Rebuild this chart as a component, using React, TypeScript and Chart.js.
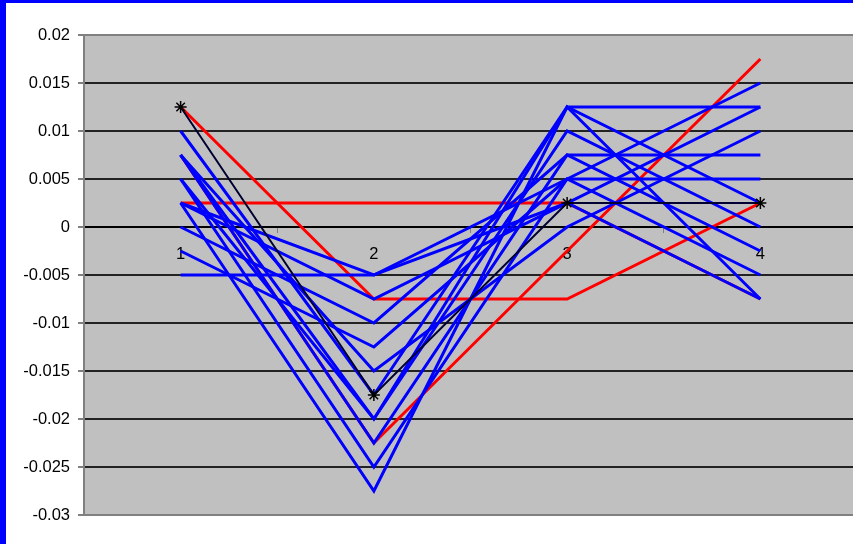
import React, { useEffect, useRef } from 'react';
import { Chart, registerables } from 'chart.js';

Chart.register(...registerables);

const categories = ['1', '2', '3', '4'];

const redA = [0.0125, -0.0075, -0.0075, 0.0025];
const redB = [0.0025, 0.0025, 0.0025, -0.0075];
const redC = [0.0075, -0.0225, -0.0025, 0.0175];
const navyStar = [0.0125, -0.0175, 0.0025, 0.0025];

const blueA = [-0.005, -0.005, 0.005, 0.015];
const blueB = [-0.0025, -0.0125, 0.005, 0.005];
const blueC = [0, -0.01, 0.0075, 0.0075];
const blueD = [0.0025, -0.005, 0.0025, 0.0125];
const blueE = [0.0025, -0.0075, 0.0025, -0.0075];
const blueF = [0.0075, -0.015, 0, 0.01];
const blueG = [0.01, -0.0175, 0.0125, 0.0125];
const blueH = [0.0075, -0.02, 0.01, 0];
const blueI = [0.005, -0.02, 0.0125, 0.0025];
const blueJ = [0.0075, -0.0225, 0.0075, -0.0025];
const blueK = [0.005, -0.025, 0.005, -0.005];
const blueL = [0.0025, -0.0275, 0.0125, -0.0075];

const blueSeries = [blueA, blueB, blueC, blueD, blueE, blueF, blueG, blueH, blueI, blueJ, blueK, blueL];
const redSeries = [redA, redB, redC];

const yMin = -0.03;
const yMax = 0.02;
const yStep = 0.005;

const FONT = "'Liberation Sans', Arial, sans-serif";

export default function App() {
  const ref = useRef<HTMLCanvasElement>(null);

  useEffect(() => {
    if (!ref.current) return;
    const bgPlugin = {
      id: 'bgPlugin',
      beforeDraw(chart: any) {
        const { ctx, chartArea: a, width, height } = chart;
        ctx.save();
        ctx.fillStyle = '#FFFFFF';
        ctx.fillRect(0, 0, width, height);
        ctx.fillStyle = '#0000FF';
        ctx.fillRect(0, 0, 6, height);
        ctx.fillRect(0, 0, width, 3);
        ctx.fillStyle = '#C0C0C0';
        ctx.fillRect(a.left, a.top, a.right - a.left, a.bottom - a.top);
        ctx.restore();
      },
    };

    const line = (data: number[], color: string, width: number, order: number) => ({
      data,
      borderColor: color,
      backgroundColor: color,
      borderWidth: width,
      pointRadius: 0,
      tension: 0,
      fill: false,
      borderJoinStyle: 'miter' as const,
      order,
    });

    const datasets: any[] = [
      {
        ...line(navyStar, '#000033', 2, 0),
        pointRadius: 6,
        pointStyle: 'star',
        pointBorderColor: '#000000',
        pointBackgroundColor: '#000000',
        pointBorderWidth: 1.5,
      },
      ...blueSeries.map((s) => line(s, '#0000FF', 3, 1)),
      ...redSeries.map((s) => line(s, '#FF0000', 3, 2)),
    ];

    const chart = new Chart(ref.current, {
      type: 'line',
      data: { labels: categories, datasets },
      plugins: [bgPlugin],
      options: {
        responsive: false,
        animation: false,
        devicePixelRatio: 1,
        layout: { padding: { left: 0, top: 35, right: 23, bottom: 29 } },
        plugins: { legend: { display: false }, tooltip: { enabled: false } },
        scales: {
          x: {
            type: 'category',
            position: { y: 0 } as any,
            offset: true,
            grid: {
              offset: true,
              drawOnChartArea: false,
              drawTicks: true,
              tickLength: 5,
              tickColor: '#808080',
            },
            border: { display: true, color: '#000000', width: 2 },
            ticks: {
              color: '#000000',
              font: { family: FONT, size: 16.5 },
              padding: 13,
              maxRotation: 0,
            },
          },
          y: {
            min: yMin,
            max: yMax,
            afterFit(scale: any) {
              scale.width = 84;
            },
            ticks: {
              stepSize: yStep,
              color: '#000000',
              font: { family: FONT, size: 16.5 },
              padding: 8,
              callback: (v: any) => String(Number(Number(v).toFixed(4))),
            },
            grid: {
              color: (c: any) => {
                const v = c.tick ? c.tick.value : 0;
                return Math.abs(v - yMax) < 1e-9 || Math.abs(v - yMin) < 1e-9 ? '#808080' : '#222222';
              },
              lineWidth: 2,
              drawTicks: true,
              tickLength: 6,
              tickColor: '#808080',
            },
            border: { display: true, color: '#808080', width: 2 },
          },
        },
      },
    });
    return () => chart.destroy();
  }, []);

  return (
    <div style={{ position: 'absolute', left: 0, top: 0, width: 853, height: 544, overflow: 'hidden', background: '#fff' }}>
      <canvas ref={ref} width={880} height={544} style={{ width: 880, height: 544, display: 'block' }} />
    </div>
  );
}
